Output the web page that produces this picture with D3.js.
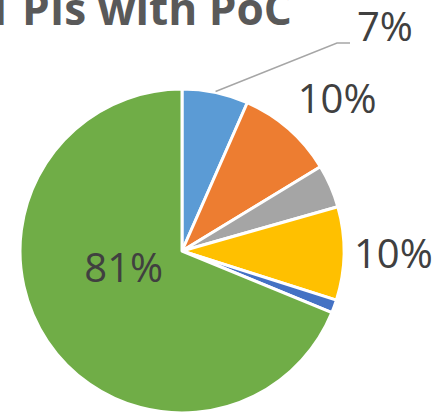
<!DOCTYPE html>
<html>
<head>
<meta charset="utf-8">
<script src="https://cdn.jsdelivr.net/npm/d3@7/dist/d3.min.js"></script>
<style>
  html, body { margin: 0; padding: 0; background: #ffffff; overflow: hidden; }
  svg { display: block; }
</style>
</head>
<body>
<div id="chart"></div>
<script>
// ---- data ----
const categories = ["Segment A", "Segment B", "Segment C", "Segment D", "Segment E", "Segment F"];
const values = [6.6, 9.7, 4.3, 9.3, 1.3, 68.8];
const labels = ["7%", "10%", "", "10%", "", "81%"];
const colors = ["#5B9BD5", "#ED7D31", "#A5A5A5", "#FFC000", "#4472C4", "#70AD47"];
const titleText = "1 PIs with PoC";

// ---- layout ----
const W = 446, H = 413;
const cx = 182, cy = 251, R = 162;

const svg = d3.select("#chart").append("svg")
  .attr("width", W).attr("height", H);

// title (clipped at the top-left, as in the reference)
const title = svg.append("text")
  .attr("x", -10).attr("y", 25)
  .attr("font-family", "'Open Sans', sans-serif")
  .attr("font-weight", 700)
  .attr("font-size", 45)
  .attr("fill", "#595959")
  .text(titleText);
(function fitTitle() {
  const node = title.node();
  const full = node.getComputedTextLength();
  const tmp = svg.append("text").attr("font-family", "'Open Sans', sans-serif")
    .attr("font-weight", 700).attr("font-size", 45).text("PIs with PoC");
  const part = tmp.node().getComputedTextLength();
  tmp.remove();
  const fs = 45 * 270 / part;
  title.attr("font-size", fs);
  const fullNew = full * fs / 45;
  title.attr("x", 292 - fullNew);
})();

const data = categories.map((c, i) => ({ cat: c, value: values[i], label: labels[i], color: colors[i] }));

const pie = d3.pie().value(d => d.value).sort(null).startAngle(0).endAngle(2 * Math.PI);
const arcs = pie(data);
const arc = d3.arc().innerRadius(0).outerRadius(R);

const g = svg.append("g").attr("transform", `translate(${cx},${cy})`);

g.selectAll("path.slice").data(arcs).join("path")
  .attr("class", "slice")
  .attr("d", arc)
  .attr("fill", d => d.data.color)
  .attr("stroke", "#ffffff")
  .attr("stroke-width", 3)
  .attr("stroke-linejoin", "round");

function rim(d, r) {
  const a = (d.startAngle + d.endAngle) / 2;
  return [r * Math.sin(a), -r * Math.cos(a)];
}

const labelFont = "'Open Sans', sans-serif";
const labelSize = 40;
const labelColor = "#404040";

arcs.forEach((d, i) => {
  if (!d.data.label) return;
  const a = (d.startAngle + d.endAngle) / 2;
  let x, y, anchor = "start";
  if (i === 0) {
    // callout label with leader line
    const p = rim(d, R + 1);
    const lx = 175, ly = -210;
    x = lx; y = ly;
    g.append("polyline")
      .attr("points", [p, [lx - 20, ly + 2], [lx - 7, ly + 2]].map(q => q.join(",")).join(" "))
      .attr("fill", "none")
      .attr("stroke", "#A6A6A6")
      .attr("stroke-width", 1.5);
  } else if (a > Math.PI * 1.2) {
    // inside label near the centroid
    const cc = arc.centroid(d);
    anchor = "middle";
    x = cc[0] + 9; y = cc[1] - 14;
  } else {
    const p = rim(d, R);
    if (a < Math.PI / 2 - 0.3) {
      x = p[0] + 9; y = p[1] - 16;
    } else {
      x = p[0] + 10; y = p[1] + 14;
    }
  }
  g.append("text")
    .attr("x", x).attr("y", y)
    .attr("text-anchor", anchor)
    .attr("font-family", labelFont)
    .attr("font-size", labelSize)
    .attr("fill", labelColor)
    .text(d.data.label);
});
</script>
</body>
</html>
